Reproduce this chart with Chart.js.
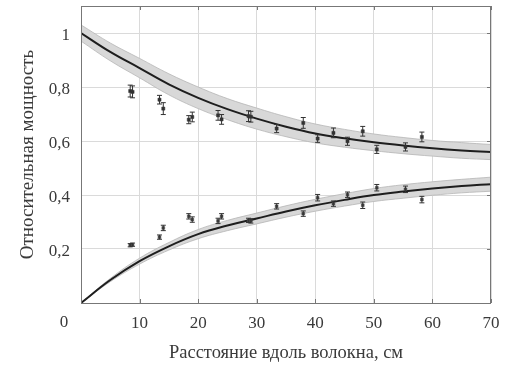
<!DOCTYPE html>
<html>
<head>
<meta charset="utf-8">
<script src="https://cdn.jsdelivr.net/npm/chart.js@4.4.1/dist/chart.umd.min.js"></script>
<style>
  html, body { margin: 0; padding: 0; background: #fff; }
  #wrap { width: 512px; height: 370px; }
</style>
</head>
<body>
<div id="wrap"><canvas id="chart"></canvas></div>
<script>
// x-grid for the model curves (cm)
const fitX = [0, 5, 10, 15, 20, 25, 30, 35, 40, 45, 50, 55, 60, 65, 70];
// upper model curve + band
const upperFit = [1.0, 0.93, 0.87, 0.81, 0.76, 0.718, 0.683, 0.653, 0.628, 0.61, 0.595, 0.583, 0.573, 0.565, 0.559];
const upperHi  = [1.03, 0.963, 0.906, 0.849, 0.8, 0.757, 0.722, 0.69, 0.663, 0.643, 0.626, 0.613, 0.602, 0.594, 0.587];
const upperLo  = [0.97, 0.897, 0.834, 0.771, 0.72, 0.679, 0.644, 0.616, 0.593, 0.577, 0.564, 0.553, 0.544, 0.536, 0.531];
// lower model curve + band
const lowerFit = [0, 0.085, 0.155, 0.21, 0.255, 0.287, 0.313, 0.339, 0.362, 0.382, 0.4, 0.413, 0.424, 0.433, 0.44];
const lowerHi  = [0, 0.091, 0.166, 0.224, 0.272, 0.306, 0.333, 0.36, 0.384, 0.405, 0.424, 0.438, 0.449, 0.458, 0.466];
const lowerLo  = [0, 0.079, 0.144, 0.196, 0.238, 0.268, 0.293, 0.318, 0.34, 0.359, 0.376, 0.388, 0.399, 0.408, 0.414];

// measurements
const measX     = [8.4, 8.8, 13.4, 14.05, 18.4, 19.0, 23.4, 24.0, 28.6, 29.0, 33.4, 37.95, 40.4, 43.1, 45.5, 48.1, 50.5, 55.4, 58.2];
const measUpper = [0.785, 0.782, 0.753, 0.72, 0.679, 0.689, 0.695, 0.68, 0.692, 0.69, 0.646, 0.667, 0.609, 0.63, 0.599, 0.636, 0.569, 0.578, 0.615];
const errUpper  = [0.022, 0.022, 0.016, 0.022, 0.015, 0.018, 0.018, 0.018, 0.02, 0.02, 0.015, 0.02, 0.014, 0.018, 0.015, 0.018, 0.015, 0.015, 0.018];
const measLower = [0.214, 0.216, 0.244, 0.278, 0.321, 0.309, 0.304, 0.321, 0.306, 0.304, 0.358, 0.331, 0.39, 0.368, 0.401, 0.362, 0.427, 0.421, 0.383];
const errLower  = [0.006, 0.006, 0.008, 0.01, 0.01, 0.01, 0.01, 0.01, 0.008, 0.008, 0.01, 0.01, 0.012, 0.01, 0.01, 0.012, 0.012, 0.012, 0.012];

const xTicks = [0, 10, 20, 30, 40, 50, 60, 70];
const yTicks = [0, 0.2, 0.4, 0.6, 0.8, 1.0];

const FONT = 'Liberation Serif';
const TXT = '#3a3a3a';

const pts = (xs, ys) => xs.map((x, i) => ({ x: x, y: ys[i] }));

// error bars drawn through the chart scales
const errorBars = {
    id: 'errorBars',
    afterDatasetsDraw(chart) {
        const { ctx, scales: { x, y } } = chart;
        ctx.save();
        ctx.strokeStyle = '#333';
        ctx.lineWidth = 1;
        chart.data.datasets.forEach(ds => {
            if (!ds.errors) return;
            ds.data.forEach((p, i) => {
                const px = x.getPixelForValue(p.x);
                const y1 = y.getPixelForValue(p.y + ds.errors[i]);
                const y2 = y.getPixelForValue(p.y - ds.errors[i]);
                ctx.beginPath();
                ctx.moveTo(px, y1); ctx.lineTo(px, y2);
                ctx.moveTo(px - 2.5, y1); ctx.lineTo(px + 2.5, y1);
                ctx.moveTo(px - 2.5, y2); ctx.lineTo(px + 2.5, y2);
                ctx.stroke();
            });
        });
        ctx.restore();
    }
};

// box frame with small inward ticks, plus the shared "0" at the corner
const frame = {
    id: 'frame',
    afterDraw(chart) {
        const { ctx, chartArea: a, scales: { x, y } } = chart;
        ctx.save();
        ctx.strokeStyle = '#777';
        ctx.lineWidth = 1;
        ctx.strokeRect(a.left + 0.5, a.top + 0.5, a.right - a.left - 1, a.bottom - a.top);
        ctx.beginPath();
        xTicks.forEach(v => {
            const px = Math.round(x.getPixelForValue(v)) + 0.5;
            ctx.moveTo(px, a.bottom); ctx.lineTo(px, a.bottom - 4);
            ctx.moveTo(px, a.top); ctx.lineTo(px, a.top + 4);
        });
        yTicks.forEach(v => {
            const py = Math.round(y.getPixelForValue(v)) + 0.5;
            ctx.moveTo(a.right, py); ctx.lineTo(a.right - 4, py);
        });
        ctx.stroke();
        ctx.fillStyle = TXT;
        ctx.font = '17px "' + FONT + '"';
        ctx.textAlign = 'center';
        ctx.textBaseline = 'middle';
        ctx.fillText('0', a.left - 17, a.bottom + 20);
        ctx.restore();
    }
};

new Chart(document.getElementById('chart'), {
    type: 'scatter',
    data: {
        datasets: [
            { data: pts(measX, measUpper), errors: errUpper, order: 0, pointStyle: 'rect', pointRadius: 2.2, backgroundColor: '#333', borderColor: '#333', borderWidth: 0.5 },
            { data: pts(measX, measLower), errors: errLower, order: 0, pointStyle: 'rect', pointRadius: 2, backgroundColor: '#444', borderColor: '#444', borderWidth: 0.5 },
            { data: pts(fitX, upperFit), order: 1, showLine: true, pointRadius: 0, borderColor: '#1e1e1e', borderWidth: 2, tension: 0.4 },
            { data: pts(fitX, lowerFit), order: 1, showLine: true, pointRadius: 0, borderColor: '#1e1e1e', borderWidth: 2, tension: 0.4 },
            { data: pts(fitX, upperLo), order: 2, showLine: true, pointRadius: 0, borderColor: '#b5b5b5', borderWidth: 0.8, tension: 0.4, fill: false },
            { data: pts(fitX, upperHi), order: 2, showLine: true, pointRadius: 0, borderColor: '#b5b5b5', borderWidth: 0.8, tension: 0.4, fill: '-1', backgroundColor: '#d8d8d8' },
            { data: pts(fitX, lowerLo), order: 2, showLine: true, pointRadius: 0, borderColor: '#b5b5b5', borderWidth: 0.8, tension: 0.4, fill: false },
            { data: pts(fitX, lowerHi), order: 2, showLine: true, pointRadius: 0, borderColor: '#b5b5b5', borderWidth: 0.8, tension: 0.4, fill: '-1', backgroundColor: '#d8d8d8' }
        ]
    },
    options: {
        responsive: true,
        maintainAspectRatio: false,
        animation: false,
        layout: { padding: { left: 13, right: 21, top: 6, bottom: 2 } },
        plugins: {
            legend: { display: false },
            tooltip: { enabled: false }
        },
        scales: {
            x: {
                type: 'linear',
                min: 0,
                max: 70,
                afterFit: s => { s.height = 65; s.paddingLeft = 0; s.paddingRight = 0; },
                afterBuildTicks: s => { s.ticks = xTicks.map(v => ({ value: v })); },
                grid: { color: '#dadada', drawTicks: false },
                border: { display: false },
                ticks: {
                    padding: 10,
                    color: TXT,
                    font: { family: FONT, size: 17 },
                    callback: v => (v === 0 ? '' : String(v))
                },
                title: {
                    display: true,
                    text: 'Расстояние вдоль волокна, см',
                    color: TXT,
                    font: { family: FONT, size: 18.5 }
                }
            },
            y: {
                type: 'linear',
                min: 0,
                max: 1.1,
                afterFit: s => { s.width = 68; s.paddingTop = 0; s.paddingBottom = 0; },
                afterBuildTicks: s => { s.ticks = yTicks.map(v => ({ value: v })); },
                grid: { color: '#dadada', drawTicks: false },
                border: { display: false },
                ticks: {
                    padding: 11,
                    labelOffset: 3,
                    color: TXT,
                    font: { family: FONT, size: 17 },
                    callback: v => (v === 0 ? '' : String(Math.round(v * 10) / 10).replace('.', ','))
                },
                title: {
                    display: true,
                    text: 'Относительная мощность',
                    color: TXT,
                    font: { family: FONT, size: 19 }
                }
            }
        }
    },
    plugins: [errorBars, frame]
});
</script>
</body>
</html>
